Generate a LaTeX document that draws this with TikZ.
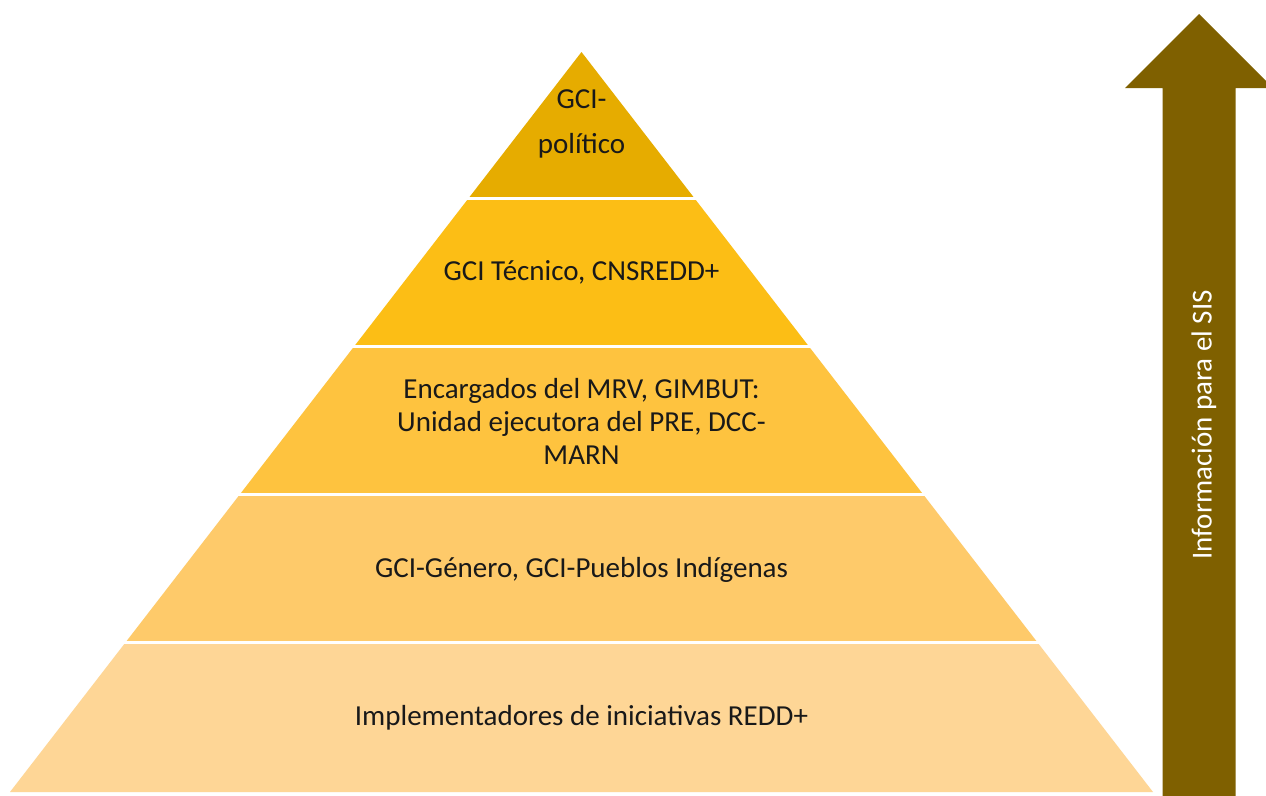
\documentclass[tikz,border=0pt]{standalone}
\usepackage{fontspec}
\setmainfont{Carlito}
\usetikzlibrary{positioning}
\definecolor{layA}{HTML}{E6AC00}
\definecolor{layB}{HTML}{FCBE15}
\definecolor{layC}{HTML}{FEC33F}
\definecolor{layD}{HTML}{FECA6A}
\definecolor{layE}{HTML}{FED696}
\definecolor{arrowbrown}{HTML}{7F6000}
\tikzset{
  layertext/.style={font=\fontsize{29}{33}\selectfont, align=center, text=black!90, inner sep=0pt},
  sep/.style={white, line width=3pt}
}
\begin{document}
\begin{tikzpicture}[x=1pt,y=-1pt]
  \clip (0,0) rectangle (1266,795);
  \fill[white] (0,0) rectangle (1266,795);
  % pyramid layers
  \fill[layA] (581.5,52) -- (695.8,200) -- (467.2,200) -- cycle;
  \fill[layB] (467.2,200) -- (695.8,200) -- (810.1,348) -- (352.9,348) -- cycle;
  \fill[layC] (352.9,348) -- (810.1,348) -- (924.4,496) -- (238.6,496) -- cycle;
  \fill[layD] (238.6,496) -- (924.4,496) -- (1038.7,644) -- (124.3,644) -- cycle;
  \fill[layE] (124.3,644) -- (1038.7,644) -- (1153,792) -- (10,792) -- cycle;
  % white gaps
  \draw[sep] (460,198.5) -- (703,198.5);
  \draw[sep] (345,346.5) -- (818,346.5);
  \draw[sep] (230,494.5) -- (932,494.5);
  \draw[sep] (115,642.5) -- (1047,642.5);
  % labels
  \node[layertext] (politico) at (581.5,124) {GCI-\\[12pt]político};
  \node[layertext] (tecnico) at (581.5,272) {GCI Técnico, CNSREDD+};
  \node[layertext] (mrv) at (581.5,421) {Encargados del MRV, GIMBUT:\\Unidad ejecutora del PRE, DCC-\\MARN};
  \node[layertext] (genero) at (581.5,570) {GCI-Género, GCI-Pueblos Indígenas};
  \node[layertext] (implem) at (581.5,718) {Implementadores de iniciativas REDD+};
  % arrow
  \fill[arrowbrown] (1162.5,796) -- (1162.5,88) -- (1125,88) -- (1199,14)
    -- (1273,88) -- (1235.5,88) -- (1235.5,796) -- cycle;
  \node[layertext, text=white, rotate=90] (sis) at (1204,425) {Información para el SIS};
\end{tikzpicture}
\end{document}
